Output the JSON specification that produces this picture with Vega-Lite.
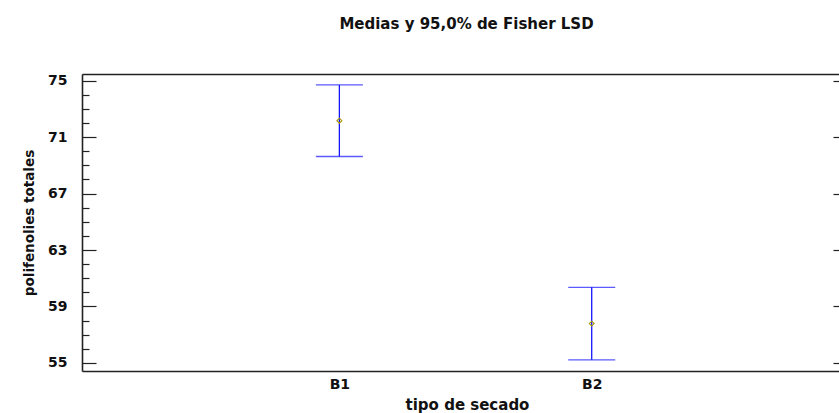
{
  "$schema": "https://vega.github.io/schema/vega-lite/v6.json",
  "width": 757,
  "height": 297,
  "autosize": {"type": "none"},
  "padding": {"left": 82, "top": 74, "right": 0, "bottom": 42},
  "background": "white",
  "config": {
    "view": {"stroke": null},
    "font": "DejaVu Sans",
    "axis": {
      "labelFont": "DejaVu Sans",
      "labelFontWeight": "bold",
      "labelFontSize": 14,
      "labelColor": "#111",
      "titleFont": "DejaVu Sans",
      "titleFontWeight": "bold",
      "titleFontSize": 15,
      "titleColor": "#111",
      "domainColor": "#222",
      "domainWidth": 1.6,
      "tickColor": "#222",
      "tickWidth": 1.2,
      "grid": false
    }
  },
  "title": {
    "text": "Medias y 95,0% de Fisher LSD",
    "font": "DejaVu Sans",
    "fontSize": 15,
    "fontWeight": "bold",
    "color": "#111",
    "anchor": "middle",
    "baseline": "alphabetic",
    "offset": 30,
    "dx": 6
  },
  "data": {
    "values": [
      {"tipo": "B1", "media": 72.17, "inf": 69.63, "sup": 74.71},
      {"tipo": "B2", "media": 57.78, "inf": 55.21, "sup": 60.35}
    ]
  },
  "resolve": {"axis": {"x": "independent", "y": "independent"}},
  "layer": [
    {
      "mark": {"type": "rule", "color": "#1414ff", "strokeWidth": 1.3},
      "encoding": {
        "x": {
          "field": "tipo",
          "type": "ordinal",
          "scale": {"type": "point", "padding": 1.07, "align": 0.51},
          "axis": {
            "orient": "bottom",
            "title": "tipo de secado",
            "labelAngle": 0,
            "ticks": false,
            "labelPadding": 6,
            "titleX": 385,
            "titleY": 38,
            "titleBaseline": "alphabetic",
            "titleAnchor": "middle",
            "titleAlign": "center"
          }
        },
        "y": {
          "field": "inf",
          "type": "quantitative",
          "scale": {"domain": [54.42, 75.48], "nice": false, "zero": false},
          "axis": {
            "orient": "left",
            "title": "polifenolies totales",
            "titleFontSize": 13.5,
            "values": [55, 56, 57, 58, 59, 60, 61, 62, 63, 64, 65, 66, 67, 68, 69, 70, 71, 72, 73, 74, 75],
            "labelExpr": "(datum.value - 55) % 4 === 0 ? datum.label : ''",
            "tickSize": {"condition": {"test": "(datum.value - 55) % 4 === 0", "value": -14}, "value": -7},
            "labelPadding": {"condition": {"test": "(datum.value - 55) % 4 === 0", "value": 29}, "value": 22},
            "titlePadding": 11
          }
        },
        "y2": {"field": "sup"}
      }
    },
    {
      "mark": {"type": "tick", "color": "#1414ff", "thickness": 1.3, "size": 47},
      "encoding": {
        "x": {
          "field": "tipo",
          "type": "ordinal",
          "axis": {
            "orient": "top",
            "title": null,
            "labels": false,
            "ticks": false
          }
        },
        "y": {
          "field": "sup",
          "type": "quantitative",
          "axis": {
            "orient": "right",
            "title": null,
            "labels": false,
            "domain": false,
            "values": [55, 59, 63, 67, 71, 75],
            "tickSize": -14,
            "offset": 8
          }
        }
      }
    },
    {
      "mark": {"type": "tick", "color": "#1414ff", "thickness": 1.3, "size": 47},
      "encoding": {
        "x": {"field": "tipo", "type": "ordinal", "axis": null},
        "y": {"field": "inf", "type": "quantitative", "axis": null}
      }
    },
    {
      "mark": {"type": "point", "shape": "diamond", "filled": false, "color": "#a89600", "strokeWidth": 1.1, "size": 24, "opacity": 1},
      "encoding": {
        "x": {"field": "tipo", "type": "ordinal", "axis": null},
        "y": {"field": "media", "type": "quantitative", "axis": null}
      }
    }
  ]
}
